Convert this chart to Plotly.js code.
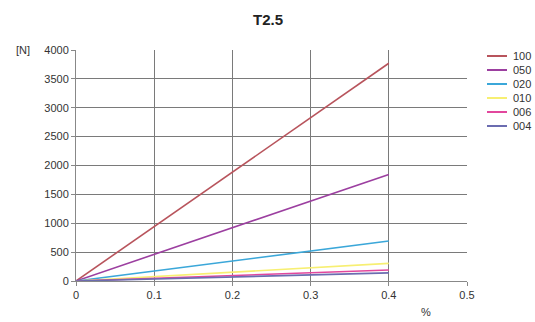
<!DOCTYPE html>
<html><head><meta charset="utf-8">
<script src="https://cdn.plot.ly/plotly-3.0.1.min.js"></script>
<style>html,body{margin:0;padding:0;background:#fff}#c{width:535px;height:322px}</style>
</head><body><div id="c"></div>
<script>
var seriesNames = ["100", "050", "020", "010", "006", "004"];
var strainX = [0, 0.4];
var force100 = [0, 3770];
var force050 = [0, 1845];
var force020 = [0, 692];
var force010 = [0, 306];
var force006 = [0, 190];
var force004 = [0, 140];
var seriesColors = ["#b8545c", "#9c3fa0", "#3ba7d9", "#f7ef72", "#e2479d", "#6b6cb0"];
var allY = [force100, force050, force020, force010, force006, force004];

var traces = seriesNames.map(function(n, i){
  return {x: strainX, y: allY[i], name: n, mode: "lines", type: "scatter",
          line: {color: seriesColors[i], width: 1.6}, showlegend: false};
});

// legend drawn in paper coordinates (plot area: x 76..467, y 50..281)
var shapes = [], annotations = [];
seriesNames.forEach(function(n, i){
  var py = 56 + 14 * i;
  var yp = (281 - py) / 231;
  shapes.push({type: "line", xref: "paper", yref: "paper", x0: (487-76)/391, x1: (507-76)/391,
               y0: yp, y1: yp, line: {color: seriesColors[i], width: 2}});
  annotations.push({text: n, xref: "paper", yref: "paper", x: (511-76)/391, y: yp,
                    xanchor: "left", yanchor: "middle", showarrow: false,
                    font: {size: 11, color: "#333"}});
});
annotations.push({text: "[N]", xref: "paper", yref: "paper", x: (23-76)/391, y: 1, xanchor: "center",
                  yanchor: "middle", showarrow: false, font: {size: 11, color: "#333"}});
annotations.push({text: "%", xref: "paper", yref: "paper", x: (426-76)/391, y: (281-312)/231,
                  xanchor: "center", yanchor: "middle", showarrow: false, font: {size: 11, color: "#333"}});

var layout = {
  width: 535, height: 322,
  margin: {l: 76, r: 68, t: 50, b: 41},
  paper_bgcolor: "#fff", plot_bgcolor: "#fff",
  font: {family: "Liberation Sans, Arial, sans-serif", size: 11, color: "#333"},
  title: {text: "<b>T2.5</b>", x: (268)/535, xanchor: "center", y: 0.94, yanchor: "middle",
          font: {size: 15, color: "#222"}},
  xaxis: {range: [0, 0.5], dtick: 0.1, tick0: 0, showgrid: true, gridcolor: "#7a7a7a",
          gridwidth: 1, zeroline: false, showline: true, linecolor: "#888", mirror: false,
          ticks: "outside", ticklen: 4, tickcolor: "#888", fixedrange: true,
          tickfont: {size: 11, color: "#333"}},
  yaxis: {range: [0, 4000], dtick: 500, showgrid: true, gridcolor: "#7a7a7a", gridwidth: 1,
          zeroline: false, showline: true, linecolor: "#888", ticks: "outside", ticklen: 4,
          tickcolor: "#888", tickfont: {size: 11, color: "#333"}, fixedrange: true},
  showlegend: false,
  shapes: shapes,
  annotations: annotations
};
Plotly.newPlot("c", traces, layout, {displayModeBar: false, staticPlot: true});
</script></body></html>
